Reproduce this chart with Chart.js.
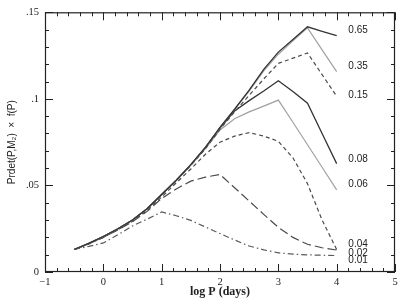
<!DOCTYPE html>
<html>
<head>
<meta charset="utf-8">
<script src="https://cdn.jsdelivr.net/npm/chart.js@4/dist/chart.umd.min.js"></script>
<style>
html,body{margin:0;padding:0;background:#fff;}
#wrap{width:405px;height:304px;}
</style>
</head>
<body>
<div id="wrap"><canvas id="c" width="405" height="304"></canvas></div>
<script>
// ---- data ----
const logP = [-0.5,-0.25,0,0.25,0.5,0.75,1,1.25,1.5,1.75,2,2.25,2.5,2.75,3,3.25,3.5,3.75,4];
const seriesNames = ['0.65','0.35','0.15','0.08','0.06','0.04','0.02','0.01'];
const q065 = [0.013,0.0165,0.0205,0.025,0.030,0.0365,0.0448,0.053,0.062,0.072,0.0835,0.094,0.105,0.117,0.127,0.1343,0.1416,0.139,0.1365];
const q035 = [0.013,0.0165,0.0205,0.025,0.030,0.0365,0.0448,0.053,0.062,0.072,0.0835,0.094,0.1045,0.1162,0.1258,0.1335,0.141,0.1283,0.1157];
const q015 = [0.013,0.0164,0.0204,0.0249,0.0299,0.0363,0.0445,0.0527,0.0615,0.0712,0.0825,0.0925,0.102,0.1115,0.1205,0.1235,0.1265,0.114,0.1015];
const q008 = [0.013,0.0165,0.0205,0.025,0.030,0.0365,0.0448,0.053,0.062,0.072,0.0832,0.093,0.099,0.1045,0.1105,0.1042,0.0975,0.080,0.0626];
const q006 = [0.013,0.0165,0.0205,0.025,0.030,0.0365,0.0447,0.0528,0.0617,0.0712,0.082,0.0885,0.0925,0.0958,0.0993,0.0865,0.0735,0.0605,0.0474];
const q004 = [0.013,0.0162,0.020,0.0245,0.0293,0.0355,0.0433,0.0515,0.0595,0.068,0.075,0.0785,0.0805,0.0785,0.0755,0.066,0.051,0.030,0.013];
const q002 = [0.013,0.0162,0.020,0.0243,0.029,0.035,0.0425,0.048,0.0525,0.0548,0.0563,0.0487,0.041,0.0333,0.0258,0.020,0.016,0.014,0.0127];
const q001 = [0.013,0.0148,0.0168,0.0215,0.0266,0.0305,0.0347,0.0325,0.0298,0.026,0.0222,0.0185,0.015,0.0128,0.0111,0.0103,0.0099,0.0097,0.0095];
const xTickValues = [-1,0,1,2,3,4,5];
const yTickValues = [0,0.05,0.1,0.15];

// ---- styles ----
const allSeries = [q065,q035,q015,q008,q006,q004,q002,q001];
const styles = [
  {c:'#333333', w:1.3, d:[]},
  {c:'#a0a0a0', w:1.2, d:[]},
  {c:'#4a4a4a', w:1.2, d:[4,3]},
  {c:'#333333', w:1.3, d:[]},
  {c:'#a0a0a0', w:1.2, d:[]},
  {c:'#4a4a4a', w:1.2, d:[4,3]},
  {c:'#4a4a4a', w:1.2, d:[9,4]},
  {c:'#5a5a5a', w:1.2, d:[6,3,1.5,3]}
];
const labelAnchors = [0.1398,0.1187,0.1022,0.0653,0.0504,0.0163,0.0111,0.0066];

const datasets = allSeries.map((s,i)=>({
  label: seriesNames[i],
  data: logP.map((x,j)=>({x:x,y:s[j]})),
  borderColor: styles[i].c,
  borderWidth: styles[i].w,
  borderDash: styles[i].d,
  pointRadius: 0,
  tension: 0,
  fill: false
}));

const framePlugin = {
  id: 'frame',
  afterDraw(chart){
    const {ctx, chartArea:a, scales:{x,y}} = chart;
    ctx.save();
    ctx.strokeStyle = '#222';
    ctx.lineWidth = 1.2;
    ctx.strokeRect(a.left+0.5, a.top+0.5, a.right-a.left-1, a.bottom-a.top-1);
    ctx.lineWidth = 1;
    ctx.beginPath();
    for(let i=0;i<=30;i++){
      const v = -1 + i*0.2;
      const px = Math.round(x.getPixelForValue(v))+0.5;
      const len = (i%5===0)?8:4;
      ctx.moveTo(px, a.bottom); ctx.lineTo(px, a.bottom-len);
      ctx.moveTo(px, a.top); ctx.lineTo(px, a.top+len);
    }
    for(let i=0;i<=15;i++){
      const v = i*0.01;
      const py = Math.round(y.getPixelForValue(v))+0.5;
      const len = (i%5===0)?8:4;
      ctx.moveTo(a.left, py); ctx.lineTo(a.left+len, py);
      ctx.moveTo(a.right, py); ctx.lineTo(a.right-len, py);
    }
    ctx.stroke();
    // curve labels
    ctx.fillStyle = '#222';
    ctx.font = '10px "Liberation Sans", Arial, sans-serif';
    ctx.textAlign = 'left';
    ctx.textBaseline = 'middle';
    const lx = x.getPixelForValue(4.2);
    seriesNames.forEach((n,i)=>{
      ctx.fillText(n, lx, y.getPixelForValue(labelAnchors[i]));
    });
    ctx.restore();
  }
};

new Chart(document.getElementById('c'), {
  type: 'line',
  data: { datasets },
  options: {
    responsive: false,
    animation: false,
    devicePixelRatio: 1,
    layout: { padding: { top: 8, right: 10, left: 0, bottom: 0 } },
    plugins: { legend: { display: false }, tooltip: { enabled: false } },
    scales: {
      x: {
        type: 'linear', min: -1, max: 5,
        afterFit(s){ s.height = 32; },
        afterBuildTicks(s){ s.ticks = xTickValues.map(v=>({value:v})); },
        grid: { display: false, drawTicks: false },
        border: { display: false },
        ticks: {
          padding: 4, color: '#222',
          font: { family: '"Liberation Serif", "Times New Roman", serif', size: 10.5 },
          callback: v => v < 0 ? '\u2212' + Math.abs(v) : String(v)
        },
        title: {
          display: true, text: 'log P (days)', color: '#222',
          font: { family: '"Liberation Serif", "Times New Roman", serif', size: 12, weight: 'bold' },
          padding: { top: 0, bottom: 5 }
        }
      },
      y: {
        type: 'linear', min: 0, max: 0.15,
        afterFit(s){ s.width = 45; },
        afterBuildTicks(s){ s.ticks = yTickValues.map(v=>({value:v})); },
        grid: { display: false, drawTicks: false },
        border: { display: false },
        ticks: {
          padding: 6, color: '#222',
          font: { family: '"Liberation Serif", "Times New Roman", serif', size: 10.5 },
          callback: v => v === 0 ? '0' : String(+v.toFixed(2)).replace(/^0/, '')
        },
        title: {
          display: true, text: 'Prdet(P,M\u2082)  \u00d7  f(P)', color: '#222',
          font: { family: '"Liberation Sans", Arial, sans-serif', size: 10 },
          padding: { top: 6, bottom: 0 }
        }
      }
    }
  },
  plugins: [framePlugin]
});
</script>
</body>
</html>
